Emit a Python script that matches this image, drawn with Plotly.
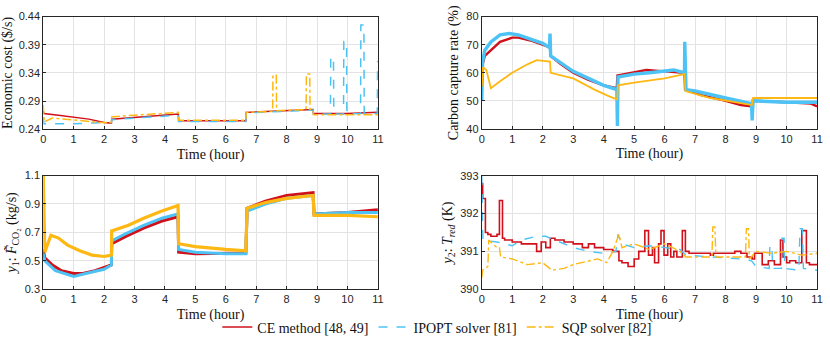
import plotly.graph_objects as go

# --- panel 1: economic cost ($/s)
t_cost_ce = [0, 0.02, 0.5, 1.0, 1.5, 2.0, 2.24, 2.25, 3.0, 3.8, 4.44, 4.45, 5.5, 6.66, 6.67, 7.5, 8.3, 8.87, 8.88, 10, 11]
cost_ce = [0.272, 0.268, 0.265, 0.262, 0.258, 0.252, 0.251, 0.258, 0.261, 0.264, 0.267, 0.255, 0.255, 0.255, 0.270, 0.272, 0.274, 0.275, 0.268, 0.268, 0.270]
t_cost_ip = [0, 0.02, 1.0, 2.0, 2.24, 2.25, 3.0, 4.44, 4.45, 6.66, 6.67, 8.0, 8.87, 8.88, 9.44, 9.45, 9.54, 9.55, 9.87, 9.88,
             9.97, 9.98, 10.43, 10.44, 10.54, 10.55, 10.98, 10.99, 11]
cost_ip = [0.262, 0.250, 0.250, 0.251, 0.252, 0.257, 0.260, 0.265, 0.254, 0.254, 0.269, 0.272, 0.274, 0.267, 0.267, 0.368, 0.368, 0.267, 0.267, 0.396,
           0.396, 0.267, 0.268, 0.425, 0.425, 0.268, 0.268, 0.360, 0.360]
t_cost_sqp = [0, 0.03, 0.3, 1.0, 1.9, 2.24, 2.25, 3.0, 4.44, 4.45, 6.66, 6.67, 7.54, 7.55, 7.66, 7.67, 8.64, 8.65, 8.76, 8.77, 8.87, 8.88, 11]
cost_sqp = [0.283, 0.253, 0.260, 0.257, 0.252, 0.252, 0.262, 0.265, 0.270, 0.256, 0.256, 0.270, 0.272, 0.336, 0.336, 0.273, 0.275, 0.338, 0.338, 0.275, 0.275, 0.266, 0.266]

# --- panel 2: carbon capture rate (%)
t_cap_ce = [0, 0.03, 0.1, 0.3, 0.6, 1.0, 1.2, 1.6, 2.0, 2.24, 2.25, 2.6, 3.0, 3.5, 4.0, 4.43, 4.45, 5.0, 5.4, 6.0,
            6.65, 6.67, 7.2, 8.0, 8.5, 8.87, 8.9, 10, 10.8, 11]
cap_ce = [55, 63, 66, 68, 71, 72.5, 72.5, 71.5, 70, 69, 66, 63, 60, 57.5, 55.5, 54.5, 59, 60, 61, 60.5,
          60, 54, 52, 50, 48.5, 48, 50, 49.5, 49, 48]
t_cap_ip = [0, 0.03, 0.1, 0.3, 0.6, 0.9, 1.2, 1.6, 2.0, 2.22, 2.24, 2.26, 2.6, 3.0, 3.5, 4.0, 4.43, 4.45, 4.47, 5.0,
            5.5, 6.3, 6.65, 6.66, 6.7, 7.0, 8.0, 8.85, 8.87, 8.9, 10, 11]
cap_ip = [50, 64, 68, 71, 73.5, 74, 73.5, 72, 70.5, 69, 74, 66, 63.5, 60.5, 58, 55.5, 54, 41, 58.5, 59.5,
          60, 61, 60, 71, 54, 53.5, 51, 49, 43, 50, 49.5, 49.5]
t_cap_sqp = [0, 0.04, 0.15, 0.3, 0.6, 1.0, 1.5, 1.8, 2.24, 2.26, 3.0, 3.7, 4.2, 4.44, 4.47, 5.0, 6.0, 6.65, 6.68, 7.5,
             8.3, 8.86, 8.9, 10, 11]
cap_sqp = [55, 62, 61, 54.5, 57, 60, 63, 64.5, 64, 60, 58, 54, 51.5, 50.5, 55.5, 56.5, 58, 59.5, 53.5, 51,
           49.5, 48.5, 51, 51, 51]

# --- panel 3: y1, CO2 flow (kg/s)
t_f_ce = [0, 0.02, 0.05, 0.3, 0.6, 1.0, 1.3, 1.7, 2.0, 2.24, 2.25, 2.7, 3.3, 3.9, 4.43, 4.45, 5.0, 6.0, 6.66, 6.7,
          7.3, 8.0, 8.87, 8.9, 10, 11]
f_ce = [0.58, 0.55, 0.52, 0.47, 0.43, 0.41, 0.41, 0.43, 0.45, 0.47, 0.62, 0.67, 0.73, 0.78, 0.81, 0.56, 0.55, 0.55, 0.555, 0.87,
        0.92, 0.96, 0.98, 0.83, 0.84, 0.86]
t_f_ip = [0, 0.02, 0.05, 0.4, 1.0, 1.4, 2.0, 2.24, 2.25, 2.7, 3.3, 3.9, 4.43, 4.45, 5.0, 6.0, 6.66, 6.7, 7.3, 8.0,
          8.87, 8.9, 10, 11]
f_ip = [0.55, 0.52, 0.5, 0.43, 0.39, 0.41, 0.44, 0.47, 0.64, 0.69, 0.75, 0.80, 0.83, 0.58, 0.56, 0.55, 0.55, 0.85, 0.90, 0.94,
        0.96, 0.83, 0.84, 0.84]
t_f_sqp = [0, 0.02, 0.05, 0.25, 0.5, 0.8, 1.2, 1.6, 2.0, 2.24, 2.25, 2.8, 3.3, 3.9, 4.43, 4.45, 5.0, 6.0, 6.66, 6.7,
           7.3, 8.0, 8.87, 8.9, 10, 11]
f_sqp = [1.1, 0.7, 0.56, 0.68, 0.66, 0.61, 0.57, 0.54, 0.53, 0.54, 0.71, 0.75, 0.80, 0.85, 0.89, 0.62, 0.60, 0.58, 0.57, 0.87,
         0.91, 0.94, 0.96, 0.82, 0.82, 0.81]

# --- panel 4: y2, T_red (K)  (CE is a staircase)
t_T_ce = [0, 0.03, 0.12, 0.2, 0.3, 0.5, 0.58, 0.68, 0.75, 1.0, 1.3, 1.8, 1.95, 2.1, 2.25, 2.4, 2.7, 3.0, 3.3, 3.5,
          3.7, 4.0, 4.3, 4.5, 4.6, 4.8, 5.0, 5.15, 5.35, 5.47, 5.6, 5.67, 5.8, 5.88, 5.98, 6.1, 6.2, 6.3, 6.4, 6.58,
          6.68, 6.8, 7.5, 7.6, 7.8, 8.3, 8.5, 8.7, 8.87, 8.95, 9.2, 9.4, 9.6, 9.8, 9.88, 10.0, 10.1, 10.3, 10.5, 10.65,
          10.75, 11]
T_ce = [392.8, 392.4, 391.5, 391.45, 391.4, 391.45, 392.35, 391.35, 391.3, 391.25, 391.2, 391.0, 391.25, 391.1, 391.35, 391.3, 391.25, 391.2, 391.1, 391.2,
        391.1, 391.05, 391.0, 390.75, 390.7, 390.6, 390.8, 391.0, 391.55, 390.9, 391.1, 390.7, 391.2, 391.55, 390.9, 391.2, 390.85, 391.0, 390.85, 391.55,
        391.0, 390.95, 390.9, 390.95, 390.95, 391.0, 390.95, 390.85, 390.8, 390.95, 390.65, 390.75, 390.65, 391.3, 390.85, 390.7, 390.75, 390.7, 391.55, 390.7,
        390.65, 390.65]
t_T_ip = [0, 0.04, 0.5, 1.0, 1.3, 1.8, 2.1, 2.4, 3.0, 3.5, 4.0, 4.4, 4.47, 4.6, 5.0, 5.5, 6.0, 6.5, 6.7, 7.5,
          8.5, 8.85, 9.0, 9.43, 9.45, 9.52, 9.54, 9.83, 9.85, 9.92, 9.94, 10.4, 10.44, 10.52, 10.55, 11]
T_ip = [393.0, 391.3, 391.25, 391.15, 391.3, 391.4, 391.4, 391.3, 391.1, 391.0, 390.95, 391.0, 391.45, 391.2, 391.1, 391.15, 391.1, 391.05, 390.9, 390.85,
        390.8, 390.75, 390.6, 390.55, 391.15, 391.15, 390.55, 390.55, 391.35, 391.35, 390.55, 390.5, 391.6, 391.6, 390.55, 390.5]
t_T_sqp = [0, 0.03, 0.2, 0.23, 0.5, 0.58, 0.62, 1.0, 1.5, 2.0, 2.3, 2.7, 3.0, 3.5, 3.8, 4.1, 4.3, 4.5, 4.6, 5.0,
           5.5, 6.0, 6.5, 6.7, 7.55, 7.58, 7.65, 7.68, 8.65, 8.68, 8.75, 8.78, 9.0, 9.5, 10.0, 10.5, 11]
T_sqp = [390.3, 390.5, 390.6, 391.3, 391.1, 391.1, 390.85, 390.8, 390.65, 390.7, 390.5, 390.55, 390.65, 390.75, 390.8, 390.7, 391.0, 391.45, 391.1, 391.2,
         391.05, 391.2, 391.0, 390.85, 390.85, 391.65, 391.65, 390.85, 390.85, 391.6, 391.6, 390.8, 391.0, 390.95, 391.0, 390.9, 390.95]

names = ['CE method [48, 49]', 'IPOPT solver [81]', 'SQP solver [82]']
RED, BLUE, ORANGE = '#D0101A', '#4DC3F5', '#FDB813'
SERIF = 'Liberation Serif'
SANS = 'Liberation Sans'

fig = go.Figure()

panels = [
    ('x', 'y', [(t_cost_ce, cost_ce), (t_cost_ip, cost_ip), (t_cost_sqp, cost_sqp)], [1.5, 1.5, 1.5], 'linear'),
    ('x2', 'y2', [(t_cap_ce, cap_ce), (t_cap_ip, cap_ip), (t_cap_sqp, cap_sqp)], [2.4, 3.4, 1.8], 'linear'),
    ('x3', 'y3', [(t_f_ce, f_ce), (t_f_ip, f_ip), (t_f_sqp, f_sqp)], [3, 3, 3.2], 'linear'),
    ('x4', 'y4', [(t_T_ce, T_ce), (t_T_ip, T_ip), (t_T_sqp, T_sqp)], [1.6, 1.4, 1.4], 'mixed'),
]
colors = [RED, BLUE, ORANGE]
dashes = ['solid', 'dash', 'dashdot']

for k, (xa, ya, series, widths, shp) in enumerate(panels):
    for i, (tt, vv) in enumerate(series):
        shape = 'hv' if (shp == 'mixed' and i == 0) else 'linear'
        dash = dashes[i]
        if k in (1, 2):
            dash = 'solid'  # noisy bands look solid
        fig.add_trace(go.Scatter(
            x=tt, y=vv, xaxis=xa, yaxis=ya, mode='lines',
            line=dict(color=colors[i], width=widths[i], dash=dash, shape=shape),
            name=names[i], showlegend=False))

# legend entries
for i in range(3):
    fig.add_trace(go.Scatter(x=[None], y=[None], mode='lines', name=names[i],
                             line=dict(color=colors[i], width=1.5, dash=dashes[i])))

W, H = 830, 346
def dom_x(a, b):
    return [a / W, b / W]
def dom_y(top, bot):
    return [1 - bot / H, 1 - top / H]

title_font = dict(family=SERIF, size=14, color='#111')
ax_common = dict(showline=True, mirror=True, linecolor='#262626', linewidth=1,
                 ticks='inside', ticklen=3, tickcolor='#262626',
                 showgrid=True, gridcolor='#e3e3e3', gridwidth=1, zeroline=False,
                 tickfont=dict(family=SANS, size=11, color='#262626'))
xcommon = dict(ax_common, range=[0, 11], tickvals=list(range(12)),
               title=dict(text='Time (hour)', font=title_font, standoff=4))

fig.update_layout(
    width=W, height=H, plot_bgcolor='white', paper_bgcolor='white',
    margin=dict(l=0, r=0, t=0, b=0),
    xaxis=dict(xcommon, domain=dom_x(40.7, 379), anchor='y'),
    xaxis2=dict(xcommon, domain=dom_x(484, 823), anchor='y2'),
    xaxis3=dict(xcommon, domain=dom_x(40.7, 379), anchor='y3'),
    xaxis4=dict(xcommon, domain=dom_x(484, 823), anchor='y4'),
    yaxis=dict(ax_common, domain=dom_y(11, 127.7), anchor='x', range=[0.24, 0.44],
               tickvals=[0.24, 0.29, 0.34, 0.39, 0.44],
               title=dict(text='Economic cost ($/s)', font=title_font, standoff=4)),
    yaxis2=dict(ax_common, domain=dom_y(11, 127.3), anchor='x2', range=[40, 80],
                tickvals=[40, 50, 60, 70, 80],
                title=dict(text='Carbon capture rate (%)', font=title_font, standoff=4)),
    yaxis3=dict(ax_common, domain=dom_y(175.7, 293.3), anchor='x3', range=[0.3, 1.1],
                tickvals=[0.3, 0.5, 0.7, 0.9, 1.1],
                title=dict(text='<i>y</i><sub>1</sub>: <i>F\u0303</i><sub>CO\u2082</sub> (kg/s)',
                           font=title_font, standoff=4)),
    yaxis4=dict(ax_common, domain=dom_y(176, 293.3), anchor='x4', range=[390, 393],
                tickvals=[390, 391, 392, 393],
                title=dict(text='<i>y</i><sub>2</sub>: <i>T<sub>red</sub></i> (K)',
                           font=title_font, standoff=4)),
    legend=dict(orientation='h', x=0.529, xanchor='center', y=1 - 333 / H, yanchor='middle',
                font=dict(family=SERIF, size=14, color='#111'), bgcolor='rgba(0,0,0,0)',
                itemwidth=30, tracegroupgap=0),
)

# page body has an 8px default margin; drop it so the figure sits at 0,0
fig.write_html('out.html', config={'displayModeBar': False},
               post_script="document.body.style.margin='0';")
